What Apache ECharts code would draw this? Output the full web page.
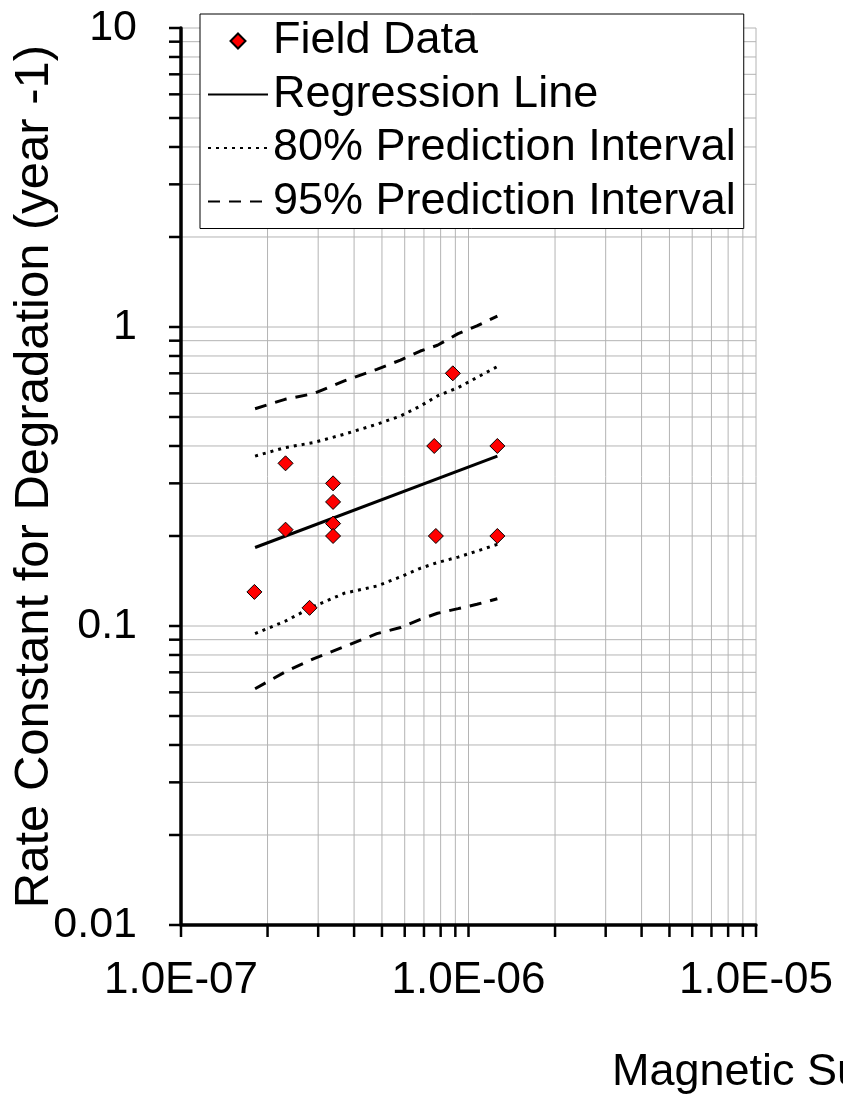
<!DOCTYPE html>
<html>
<head>
<meta charset="utf-8">
<script src="https://cdn.jsdelivr.net/npm/echarts@6/dist/echarts.min.js"></script>
<style>
  html, body { margin: 0; padding: 0; background: #fff; }
  #chart { width: 843px; height: 1095px; }
</style>
</head>
<body>
<div id="chart"></div>
<script>
// ---- Data ----
const fieldX = [1.80e-7, 2.31e-7, 2.31e-7, 2.80e-7, 3.38e-7, 3.38e-7, 3.38e-7, 3.38e-7, 7.6e-7, 7.7e-7, 8.82e-7, 1.26e-6, 1.26e-6];
const fieldY = [0.13, 0.35, 0.21, 0.115, 0.30, 0.26, 0.22, 0.20, 0.40, 0.20, 0.70, 0.40, 0.20];

const regX = [1.81e-7, 1.26e-6];
const regY = [0.183, 0.370];

const piX      = [1.81e-7, 2.3e-7, 2.9e-7, 3.7e-7, 4.8e-7, 5.8e-7, 6.8e-7, 7.8e-7, 9.2e-7, 1.07e-6, 1.26e-6];
const upper80  = [0.370, 0.395, 0.411, 0.438, 0.473, 0.504, 0.544, 0.588, 0.627, 0.678, 0.737];
const lower80  = [0.0943, 0.1037, 0.1164, 0.1287, 0.136, 0.146, 0.156, 0.163, 0.170, 0.178, 0.1876];
const upper95  = [0.533, 0.573, 0.599, 0.660, 0.722, 0.775, 0.831, 0.869, 0.950, 1.008, 1.088];
const lower95  = [0.0617, 0.0702, 0.0778, 0.0853, 0.0943, 0.0988, 0.1053, 0.1103, 0.1143, 0.1182, 0.1234];

// tick positions / labels
const xTickValues = [1e-7,2e-7,3e-7,4e-7,5e-7,6e-7,7e-7,8e-7,9e-7,1e-6,2e-6,3e-6,4e-6,5e-6,6e-6,7e-6,8e-6,9e-6,1e-5];
const yTickValues = [0.01,0.02,0.03,0.04,0.05,0.06,0.07,0.08,0.09,0.1,0.2,0.3,0.4,0.5,0.6,0.7,0.8,0.9,1,2,3,4,5,6,7,8,9,10];
const xMajorLabels = {'-7': '1.0E-07', '-6': '1.0E-06', '-5': '1.0E-05'};
const yMajorLabels = {'-2': '0.01', '-1': '0.1', '0': '1', '1': '10'};

const seriesNames = ['Field Data', 'Regression Line', '80% Prediction Interval', '95% Prediction Interval'];
const xAxisTitle = 'Magnetic Susceptibility';
const yAxisTitle = 'Rate Constant for Degradation (year -1)';

// ---- Chart ----
const FONT = '"Liberation Sans", Arial, Helvetica, sans-serif';
const zip = (a, b) => a.map((v, i) => [v, b[i]]);
const GRID_COLOR = '#b4b4b4';
const DIAMOND = 'path://M0,-1L1,0L0,1L-1,0Z';

const chart = echarts.init(document.getElementById('chart'), null, { renderer: 'canvas' });

function gridRender(isX) {
  return function (params, api) {
    const cs = params.coordSys;
    const children = [];
    if (isX) {
      const v = api.value(0);
      const x = api.coord([v, 1])[0];
      const isFirst = Math.abs(v - xTickValues[0]) < v * 1e-6;
      if (!isFirst) {
        children.push({ type: 'line', shape: { x1: x, y1: cs.y, x2: x, y2: cs.y + cs.height },
          style: { stroke: GRID_COLOR, lineWidth: 1 } });
      }
      children.push({ type: 'line', shape: { x1: x, y1: cs.y + cs.height, x2: x, y2: cs.y + cs.height + 12 },
        style: { stroke: '#000', lineWidth: 2.5 }, z2: 10 });
    } else {
      const v = api.value(1);
      const y = api.coord([1e-6, v])[1];
      const isFirst = Math.abs(v - yTickValues[0]) < v * 1e-6;
      if (!isFirst) {
        children.push({ type: 'line', shape: { x1: cs.x, y1: y, x2: cs.x + cs.width, y2: y },
          style: { stroke: GRID_COLOR, lineWidth: 1 } });
      }
      children.push({ type: 'line', shape: { x1: cs.x - 12, y1: y, x2: cs.x, y2: y },
        style: { stroke: '#000', lineWidth: 2.5 }, z2: 10 });
    }
    return { type: 'group', children: children };
  };
}

const lineItemStyle = { color: 'transparent', borderColor: 'transparent', borderWidth: 0 };

const option = {
  animation: false,
  backgroundColor: '#fff',
  grid: { left: 181, top: 28, width: 575, height: 897, containLabel: false, outerBoundsMode: 'none' },
  legend: {
    data: [
      { name: seriesNames[0], icon: DIAMOND },
      { name: seriesNames[1] },
      { name: seriesNames[2] },
      { name: seriesNames[3] }
    ],
    orient: 'vertical',
    left: 200,
    top: 14,
    padding: [4.5, 8, 4.5, 7],
    itemWidth: 60,
    itemHeight: 15,
    itemGap: 8.5,
    symbolKeepAspect: true,
    backgroundColor: '#fff',
    borderColor: '#000',
    borderWidth: 1,
    borderRadius: 0,
    selectedMode: false,
    textStyle: { fontFamily: FONT, fontSize: 45, color: '#000', lineHeight: 45 }
  },
  xAxis: {
    type: 'log',
    logBase: 10,
    min: 1e-7,
    max: 1e-5,
    z: 5,
    axisLine: { show: true, onZero: false, lineStyle: { color: '#000', width: 3.5 } },
    axisTick: { show: false },
    splitLine: { show: false },
    minorTick: { show: false },
    axisLabel: {
      margin: 34,
      fontFamily: FONT, fontSize: 44, color: '#000',
      formatter: v => xMajorLabels[String(Math.round(Math.log10(v)))] || ''
    }
  },
  yAxis: {
    type: 'log',
    logBase: 10,
    min: 0.01,
    max: 10,
    z: 5,
    name: yAxisTitle,
    nameLocation: 'middle',
    nameGap: 122,
    nameMoveOverlap: false,
    nameTextStyle: { fontFamily: FONT, fontSize: 49, color: '#000' },
    axisLine: { show: true, onZero: false, lineStyle: { color: '#000', width: 3.5 } },
    axisTick: { show: false },
    splitLine: { show: false },
    minorTick: { show: false },
    axisLabel: {
      margin: 44,
      fontFamily: FONT, fontSize: 43, color: '#000',
      formatter: v => yMajorLabels[String(Math.round(Math.log10(v)))] || ''
    }
  },
  graphic: [{
    type: 'text',
    left: 612,
    top: 1050,
    style: { text: xAxisTitle, fontFamily: FONT, fontSize: 45, fill: '#000' }
  }],
  series: [
    {
      type: 'custom', name: 'xgrid', z: 1, clip: false, silent: true,
      renderItem: gridRender(true),
      data: xTickValues.map(v => [v, 1])
    },
    {
      type: 'custom', name: 'ygrid', z: 1, clip: false, silent: true,
      renderItem: gridRender(false),
      data: yTickValues.map(v => [1e-6, v])
    },
    {
      name: seriesNames[1], type: 'line', z: 3, symbol: 'none', showSymbol: false,
      lineStyle: { color: '#000', width: 3, type: 'solid' },
      itemStyle: lineItemStyle,
      data: zip(regX, regY)
    },
    {
      name: seriesNames[2], type: 'line', z: 3, symbol: 'none', showSymbol: false,
      lineStyle: { color: '#000', width: 3, type: [3, 5], cap: 'butt' },
      itemStyle: lineItemStyle,
      data: zip(piX, upper80)
    },
    {
      name: seriesNames[2], type: 'line', z: 3, symbol: 'none', showSymbol: false,
      lineStyle: { color: '#000', width: 3, type: [3, 5], cap: 'butt' },
      itemStyle: lineItemStyle,
      data: zip(piX, lower80)
    },
    {
      name: seriesNames[3], type: 'line', z: 3, symbol: 'none', showSymbol: false,
      lineStyle: { color: '#000', width: 3, type: [12, 9] },
      itemStyle: lineItemStyle,
      data: zip(piX, upper95)
    },
    {
      name: seriesNames[3], type: 'line', z: 3, symbol: 'none', showSymbol: false,
      lineStyle: { color: '#000', width: 3, type: [12, 9] },
      itemStyle: lineItemStyle,
      data: zip(piX, lower95)
    },
    {
      name: seriesNames[0], type: 'scatter', z: 4,
      symbol: 'diamond', symbolSize: 15,
      itemStyle: { color: '#ff0000', borderColor: '#000', borderWidth: 1, opacity: 1 },
      data: zip(fieldX, fieldY)
    }
  ]
};

chart.setOption(option);
</script>
</body>
</html>
